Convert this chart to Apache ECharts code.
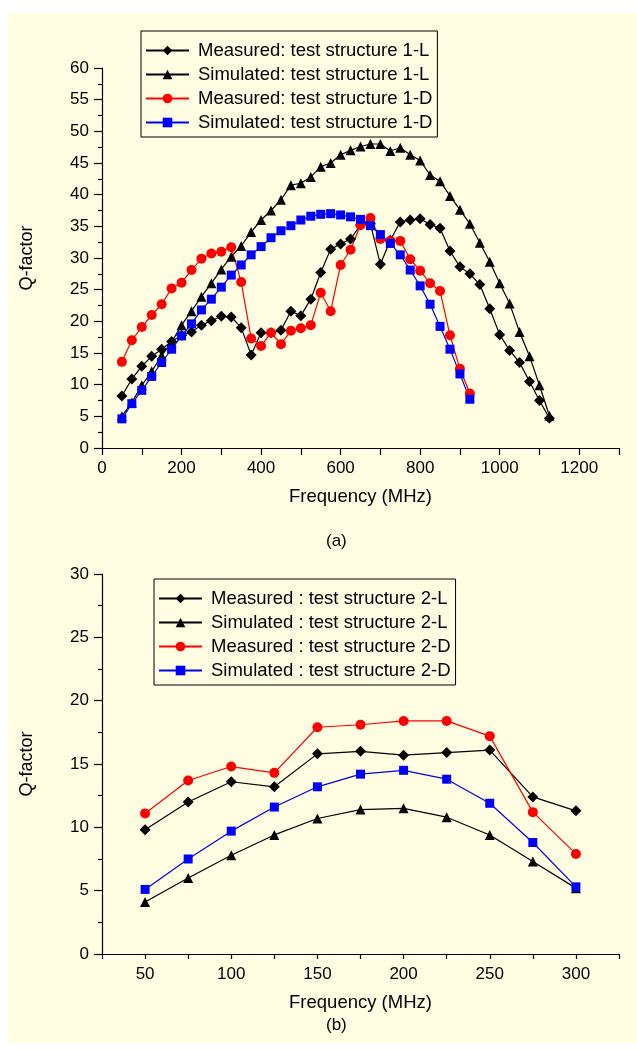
<!DOCTYPE html>
<html>
<head>
<meta charset="utf-8">
<script src="https://cdn.jsdelivr.net/npm/echarts@6/dist/echarts.min.js"></script>
<style>
  html, body { margin: 0; padding: 0; background: #ffffff; }
  #paper { position: absolute; left: 8px; top: 13px; right: 0; bottom: 7px; background: #FFFEE2; }
  #chart { position: absolute; left: 0; top: 0; width: 637px; height: 1050px; }
</style>
</head>
<body>
<div id="paper"></div>
<div id="chart"></div>
<script>
// ---- (a) test structures 1-L / 1-D : Q-factor vs frequency ----
const freqA_L = [50, 75, 100, 125, 150, 175, 200, 225, 250, 275, 300, 325, 350, 375, 400, 425, 450, 475, 500, 525,
                 550, 575, 600, 625, 650, 675, 700, 725, 750, 775, 800, 825, 850, 875, 900, 925, 950, 975, 1000, 1025,
                 1050, 1075, 1100, 1125];
const measured1L = [8.2, 10.9, 12.9, 14.5, 15.6, 16.8, 17.8, 18.3, 19.4, 20.1, 20.8, 20.7, 19.0, 14.7, 18.2, 18.2, 18.6, 21.6, 20.9, 23.5,
                    27.7, 31.4, 32.2, 33.0, 35.2, 35.4, 29.0, 32.8, 35.7, 36.0, 36.2, 35.3, 34.7, 31.1, 28.6, 27.5, 25.8, 22.0, 17.9, 15.4,
                    13.5, 10.5, 7.5, 4.7];
const simulated1L = [5.0, 7.2, 9.9, 12.1, 14.6, 16.7, 19.4, 21.6, 23.9, 26.0, 28.2, 30.2, 31.9, 34.1, 36.0, 37.5, 39.2, 41.5, 41.8, 42.8,
                     44.4, 45.0, 46.3, 47.0, 47.6, 48.0, 48.0, 46.9, 47.4, 46.3, 45.4, 43.1, 42.1, 39.8, 37.6, 35.4, 32.4, 29.4, 26.0, 22.8,
                     18.3, 14.5, 9.9, 5.1];
const freqA_D = [50, 75, 100, 125, 150, 175, 200, 225, 250, 275, 300, 325, 350, 375, 400, 425, 450, 475, 500, 525,
                 550, 575, 600, 625, 650, 675, 700, 725, 750, 775, 800, 825, 850, 875, 900, 925];
const measured1D = [13.6, 17.0, 19.1, 21.0, 22.7, 25.2, 26.1, 28.1, 29.9, 30.7, 31.0, 31.7, 26.2, 17.3, 16.1, 18.2, 16.4, 18.5, 18.9, 19.4,
                    24.5, 21.6, 28.9, 31.3, 35.2, 36.3, 33.0, 32.7, 32.7, 29.8, 28.0, 26.0, 24.8, 17.8, 12.5, 8.6];
const simulated1D = [4.6, 7.0, 9.1, 11.3, 13.5, 15.6, 17.7, 19.6, 21.8, 23.5, 25.4, 27.3, 28.9, 30.5, 31.8, 33.2, 34.3, 35.1, 36.0, 36.6,
                     36.9, 37.0, 36.8, 36.5, 36.1, 35.1, 33.7, 32.3, 30.5, 28.1, 25.6, 22.7, 19.2, 15.6, 11.7, 7.7];
const namesA = ['Measured: test structure 1-L', 'Simulated: test structure 1-L',
                'Measured: test structure 1-D', 'Simulated: test structure 1-D'];

// ---- (b) test structures 2-L / 2-D ----
const freqB = [50, 75, 100, 125, 150, 175, 200, 225, 250, 275, 300];
const measured2L = [9.8, 12.0, 13.6, 13.2, 15.8, 16.0, 15.7, 15.9, 16.1, 12.4, 11.3];
const simulated2L = [4.1, 6.0, 7.8, 9.4, 10.7, 11.4, 11.5, 10.8, 9.4, 7.3, 5.2];
const measured2D = [11.1, 13.7, 14.8, 14.3, 17.9, 18.1, 18.4, 18.4, 17.2, 11.2, 7.9];
const simulated2D = [5.1, 7.5, 9.7, 11.6, 13.2, 14.2, 14.5, 13.8, 11.9, 8.8, 5.3];
const namesB = ['Measured : test structure 2-L', 'Simulated : test structure 2-L',
                'Measured : test structure 2-D', 'Simulated : test structure 2-D'];

const FONT = "'Liberation Sans', Arial, sans-serif";
const BLACK = '#000000', RED = '#FF0000', BLUE = '#0000FF';

function pairs(xs, ys) { return xs.map((x, i) => [x, ys[i]]); }

function lineSeries(name, idx, xs, ys, color, symbol, size) {
  return {
    name: name, type: 'line', xAxisIndex: idx, yAxisIndex: idx,
    data: pairs(xs, ys),
    symbol: symbol, symbolSize: size,
    itemStyle: { color: color, opacity: 1 },
    lineStyle: { color: color, width: 1.2 },
    animation: false
  };
}

function legendBox(names, left, top) {
  return {
    data: names, orient: 'vertical', left: left, top: top,
    itemWidth: 43, itemHeight: 12, itemGap: 5,
    padding: [10, 5, 5, 4],
    borderColor: '#000', borderWidth: 1, backgroundColor: 'transparent',
    textStyle: { fontFamily: FONT, fontSize: 18.5, color: '#000', lineHeight: 18, padding: [0, 0, 0, 4] }
  };
}

const axisLineStyle = { show: true, onZero: false, lineStyle: { color: '#000', width: 1.2 } };
const labelStyle = { color: '#000', fontFamily: FONT, fontSize: 17 };

function xAxis(idx, min, max, interval, step, tickLen) {
  return {
    gridIndex: idx, type: 'value', min: min, max: max, interval: interval,
    axisLine: axisLineStyle,
    axisTick: { show: true, length: tickLen, lineStyle: { color: '#000', width: 1.2 } },
    axisLabel: Object.assign({ margin: 12, formatter: v => (v % step === 0 && v < max) ? String(v) : '' }, labelStyle),
    splitLine: { show: false },
    name: 'Frequency (MHz)', nameLocation: 'middle', nameGap: 39,
    nameTextStyle: { color: '#000', fontFamily: FONT, fontSize: 18.5 }
  };
}

function yAxis(idx, max) {
  return {
    gridIndex: idx, type: 'value', min: 0, max: max, interval: 5,
    axisLine: axisLineStyle,
    axisTick: { show: true, length: 8, lineStyle: { color: '#000', width: 1.2 } },
    minorTick: { show: true, splitNumber: 2, length: 4, lineStyle: { color: '#000', width: 1.2 } },
    axisLabel: Object.assign({ margin: 13 }, labelStyle),
    splitLine: { show: false },
    name: 'Q-factor', nameLocation: 'middle', nameGap: 66,
    nameTextStyle: { color: '#000', fontFamily: FONT, fontSize: 18 }
  };
}

const option = {
  backgroundColor: 'transparent',
  textStyle: { fontFamily: FONT },
  grid: [
    { left: 102, top: 68, width: 517, height: 380 },
    { left: 102, top: 574, width: 517, height: 380 }
  ],
  xAxis: [
    xAxis(0, 0, 1300, 100, 200, 7),
    xAxis(1, 25, 325, 25, 50, 5)
  ],
  yAxis: [
    yAxis(0, 60),
    yAxis(1, 30)
  ],
  legend: [
    legendBox(namesA, 141, 31),
    legendBox(namesB, 154, 579)
  ],
  graphic: [
    { type: 'text', left: 326, top: 533, style: { text: '(a)', fill: '#000', font: '17px ' + FONT } },
    { type: 'text', left: 326, top: 1017, style: { text: '(b)', fill: '#000', font: '17px ' + FONT } }
  ],
  series: [
    lineSeries(namesA[0], 0, freqA_L, measured1L, BLACK, 'diamond', 11),
    lineSeries(namesA[1], 0, freqA_L, simulated1L, BLACK, 'triangle', 10),
    lineSeries(namesA[2], 0, freqA_D, measured1D, RED, 'circle', 10),
    lineSeries(namesA[3], 0, freqA_D, simulated1D, BLUE, 'rect', 9),
    lineSeries(namesB[0], 1, freqB, measured2L, BLACK, 'diamond', 11),
    lineSeries(namesB[1], 1, freqB, simulated2L, BLACK, 'triangle', 10),
    lineSeries(namesB[2], 1, freqB, measured2D, RED, 'circle', 10),
    lineSeries(namesB[3], 1, freqB, simulated2D, BLUE, 'rect', 9)
  ]
};

const chart = echarts.init(document.getElementById('chart'), null, { renderer: 'canvas' });
chart.setOption(option);
</script>
</body>
</html>
